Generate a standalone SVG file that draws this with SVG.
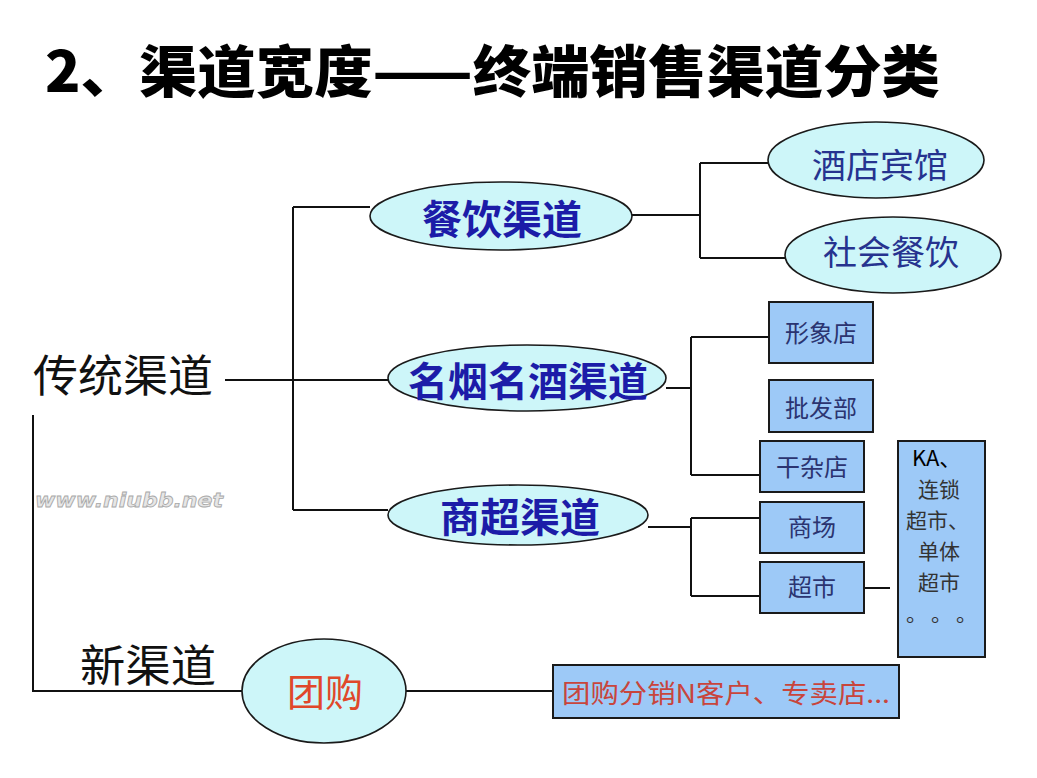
<svg xmlns="http://www.w3.org/2000/svg" width="1037" height="778" viewBox="0 0 1037 778">
<defs>
<style>
.cjk{font-family:"Noto Sans CJK SC","Liberation Sans",sans-serif}
.ell{fill:#cdf6f9;stroke:#1a1a1a;stroke-width:1.6}
.box{fill:#9dc9f7;stroke:#1a1a1a;stroke-width:2}
.conn{fill:none;stroke:#111;stroke-width:2}
.l1{font-size:40px;font-weight:bold;fill:#1c1ca8;text-anchor:middle}
.l2{font-size:34px;fill:#26338f;text-anchor:middle}
.bx{font-size:24px;fill:#2b3470;text-anchor:middle}
.big{font-size:44px;fill:#111}
.ka{font-size:21px;fill:#333}
</style>
</defs>
<rect width="1037" height="778" fill="#ffffff"/>
<text class="cjk" x="45" y="92" font-size="56" font-weight="900" fill="#000" textLength="895" lengthAdjust="spacingAndGlyphs">2、渠道宽度——终端销售渠道分类</text>
<text x="35" y="507" font-family="DejaVu Sans, sans-serif" font-size="20" font-weight="bold" font-style="italic" fill="#e6e6e6" stroke="#a8a8a8" stroke-width="0.8" textLength="188" lengthAdjust="spacingAndGlyphs">www.niubb.net</text>
<g id="connectors">
<path class="conn" d="M225 380 H388"/>
<path class="conn" d="M293 207 V510 M293 207 H370 M293 510 H388"/>
<path class="conn" d="M33 415 V691 H242"/>
<path class="conn" d="M406 691 H553"/>
<path class="conn" d="M632 215 H700 M700 163 V258 M700 163 H768 M700 258 H785"/>
<path class="conn" d="M666 388 H691 M691 337 V475 M691 337 H769 M691 475 H760"/>
<path class="conn" d="M648 527 H691 M691 518 V596 M691 518 H760 M691 596 H760"/>
<path class="conn" d="M856 588 H890"/>
</g>
<g id="traditional"><text class="cjk big" x="33" y="392" textLength="180" lengthAdjust="spacingAndGlyphs">传统渠道</text></g>
<g id="newchannel"><text class="cjk big" x="80" y="682" textLength="136" lengthAdjust="spacingAndGlyphs">新渠道</text></g>
<g id="canyin"><ellipse class="ell" cx="501" cy="216" rx="131" ry="34"/><text class="cjk l1" x="502" y="234">餐饮渠道</text></g>
<g id="jiudian"><ellipse class="ell" cx="876" cy="160" rx="108" ry="38"/><text class="cjk l2" x="880" y="178">酒店宾馆</text></g>
<g id="shehui"><ellipse class="ell" cx="893" cy="255" rx="108" ry="38"/><text class="cjk l2" x="891" y="265">社会餐饮</text></g>
<g id="mingyan"><ellipse class="ell" cx="527" cy="378" rx="139" ry="33"/><text class="cjk l1" x="528" y="396" font-size="39">名烟名酒渠道</text></g>
<g id="shangchao"><ellipse class="ell" cx="518" cy="515" rx="130" ry="30"/><text class="cjk l1" x="520" y="532" font-size="39">商超渠道</text></g>
<g id="tuangou"><ellipse class="ell" cx="324" cy="691" rx="82" ry="52"/><text class="cjk" x="325" y="706" font-size="38" fill="#e0482a" text-anchor="middle">团购</text></g>
<g id="xingxiang"><rect class="box" x="769" y="302" width="104" height="61"/><text class="cjk bx" x="821" y="342" fill="#2a3a9a">形象店</text></g>
<g id="pifa"><rect class="box" x="769" y="380" width="104" height="52"/><text class="cjk bx" x="821" y="417">批发部</text></g>
<g id="ganza"><rect class="box" x="760" y="441" width="104" height="51"/><text class="cjk bx" x="812" y="476" fill="#3048c0">干杂店</text></g>
<g id="shangchang"><rect class="box" x="760" y="502" width="104" height="51"/><text class="cjk bx" x="812" y="536" fill="#333">商场</text></g>
<g id="chaoshi"><rect class="box" x="760" y="562" width="104" height="51"/><text class="cjk bx" x="812" y="596" fill="#333">超市</text></g>
<g id="ka"><rect class="box" x="898" y="441" width="87" height="216"/>
<text class="cjk ka"><tspan x="912" y="466" font-size="22" fill="#000">KA、</tspan><tspan x="918" y="497">连锁</tspan><tspan x="906" y="528">超市、</tspan><tspan x="918" y="559">单体</tspan><tspan x="918" y="590">超市</tspan><tspan x="906" y="621">。</tspan><tspan x="931" y="621">。</tspan><tspan x="956" y="621">。</tspan></text>
</g>
<g id="tuangoubox"><rect class="box" x="553" y="665" width="346" height="53"/><text class="cjk" x="562" y="703" font-size="26" fill="#c8453c" textLength="328" lengthAdjust="spacingAndGlyphs">团购分销N客户、专卖店...</text></g>
</svg>
